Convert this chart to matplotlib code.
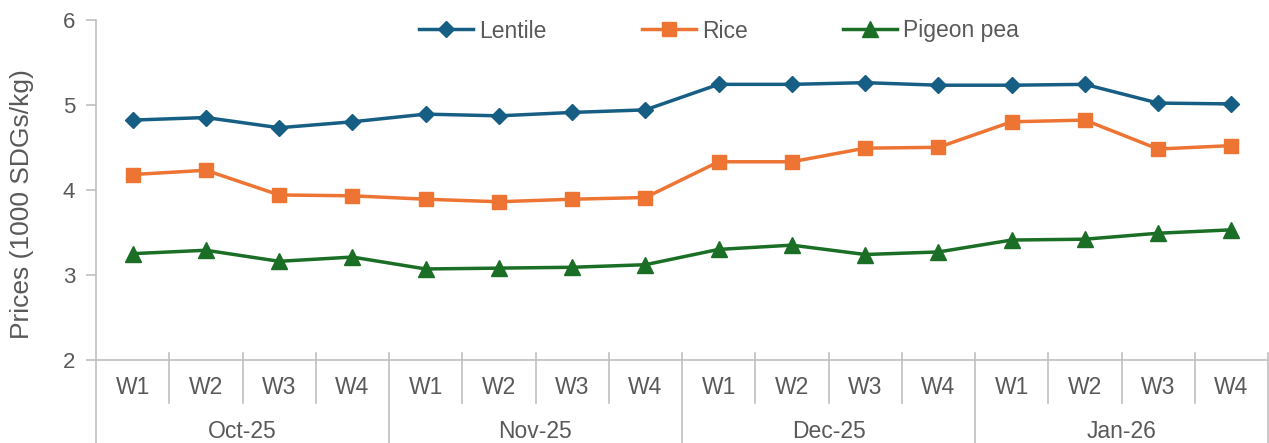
import matplotlib
matplotlib.use("Agg")
import matplotlib.pyplot as plt
import matplotlib.transforms as mtransforms
from matplotlib.lines import Line2D
import numpy as np

plt.rcParams['font.family'] = ['Liberation Sans', 'DejaVu Sans']

months = ["Oct-25", "Nov-25", "Dec-25", "Jan-26"]
weeks = ["W1", "W2", "W3", "W4"]
lentile = [4.82, 4.85, 4.73, 4.80, 4.89, 4.87, 4.91, 4.94,
           5.24, 5.24, 5.26, 5.23, 5.23, 5.24, 5.02, 5.01]
rice = [4.18, 4.23, 3.94, 3.93, 3.89, 3.86, 3.89, 3.91,
        4.33, 4.33, 4.49, 4.50, 4.80, 4.82, 4.48, 4.52]
pigeon = [3.25, 3.29, 3.16, 3.21, 3.07, 3.08, 3.09, 3.12,
          3.30, 3.35, 3.24, 3.27, 3.41, 3.42, 3.49, 3.53]

TXT = "#595959"
AX = "#BFBFBF"
W, H = 1269, 443
fig = plt.figure(figsize=(W / 100, H / 100), dpi=100)
ax = fig.add_axes([96 / W, 1 - 360 / H, (1268 - 96) / W, (360 - 19.7) / H])

n = len(months) * len(weeks)
x = np.arange(n)
ax.plot(x, lentile, color="#175E84", lw=2.5, marker="D", ms=8.5, label="Lentile")
ax.plot(x, rice, color="#ED7432", lw=2.5, marker="s", ms=10.5, label="Rice")
ax.plot(x, pigeon, color="#1B6E25", lw=2.5, marker="^", ms=11, label="Pigeon pea")

ax.set_xlim(-0.5, n - 0.5)
ax.set_ylim(2, 6)
ax.set_yticks([2, 3, 4, 5, 6])
ax.tick_params(axis="y", colors=AX, labelcolor=TXT, labelsize=16, length=7, width=1.2, pad=8)
ax.set_xticks([])
for s in ["top", "right"]:
    ax.spines[s].set_visible(False)
for s in ["left", "bottom"]:
    ax.spines[s].set_color(AX)
    ax.spines[s].set_linewidth(1.2)
fig.text(22 / W, 1 - 204 / H, "Prices (1000 SDGs/kg)", rotation=90, ha="center", va="center",
         color=TXT, fontsize=19)

trans = mtransforms.blended_transform_factory(ax.transData, ax.transAxes)
hpx = 360 - 19.7
top = 7 / hpx
wk_bot = -43 / hpx
grp_bot = -84 / hpx
for i in range(n + 1):
    xb = i - 0.5
    if i % 4 == 0:
        y0 = 0 if i == 0 else top
        ax.add_line(Line2D([xb, xb], [y0, grp_bot], transform=trans, color=AX, lw=1.2, clip_on=False))
    else:
        ax.add_line(Line2D([xb, xb], [top, wk_bot], transform=trans, color=AX, lw=1.2, clip_on=False))
for i in range(n):
    ax.text(x[i], -28 / hpx, weeks[i % 4], transform=trans, ha="center", va="center", color=TXT, fontsize=16.5)
for m, name in enumerate(months):
    ax.text(4 * m + 1.5, -71 / hpx, name, transform=trans, ha="center", va="center", color=TXT, fontsize=16.5)

fig.legend(loc="center", bbox_to_anchor=(719 / W, 1 - 31 / H), ncol=3, frameon=False,
           fontsize=16.5, labelcolor=TXT, handlelength=2.36, handletextpad=0.26, columnspacing=4.15)

fig.savefig("out.png", dpi=100)
